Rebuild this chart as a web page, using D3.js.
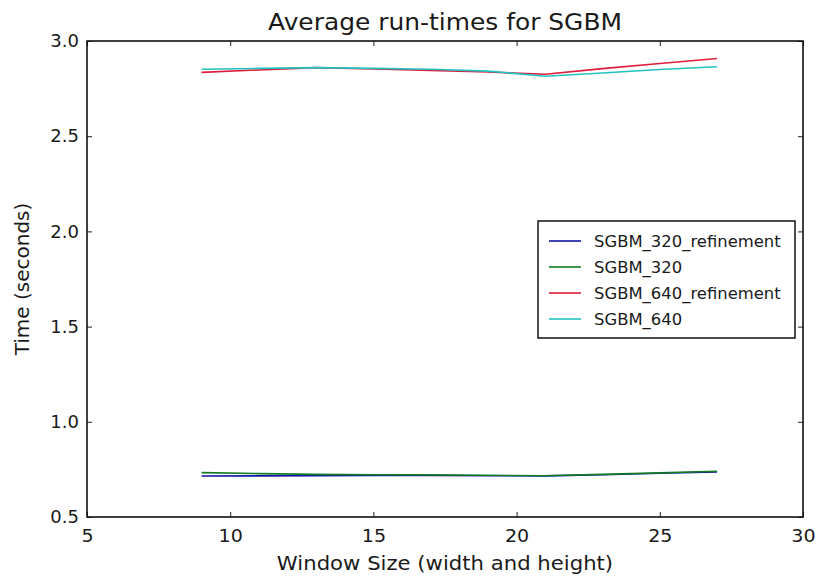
<!DOCTYPE html>
<html>
<head>
<meta charset="utf-8">
<script src="https://cdn.jsdelivr.net/npm/d3@7"></script>
<style>
  html, body { margin: 0; padding: 0; background: #fff; }
  svg { display: block; font-family: "DejaVu Sans", sans-serif; }
</style>
</head>
<body>
<svg id="chart" width="817" height="577"></svg>
<script>
// ---- data ----
const windowSizes = [9, 11, 13, 15, 17, 19, 21, 23, 25, 27];
const sgbm320Refinement = [0.715, 0.716, 0.717, 0.718, 0.718, 0.717, 0.716, 0.722, 0.730, 0.737];
const sgbm320 = [0.733, 0.728, 0.724, 0.722, 0.721, 0.719, 0.717, 0.724, 0.732, 0.740];
const sgbm640Refinement = [2.835, 2.848, 2.860, 2.853, 2.845, 2.837, 2.825, 2.855, 2.882, 2.908];
const sgbm640 = [2.852, 2.856, 2.860, 2.856, 2.852, 2.842, 2.815, 2.832, 2.850, 2.865];
const seriesNames = ["SGBM_320_refinement", "SGBM_320", "SGBM_640_refinement", "SGBM_640"];
const seriesColors = ["#1414a8", "#157a25", "#e01c3c", "#22c2c0"];
const xTicks = [5, 10, 15, 20, 25, 30];
const yTicks = [0.5, 1.0, 1.5, 2.0, 2.5, 3.0];
const titleText = "Average run-times for SGBM";
const xLabel = "Window Size (width and height)";
const yLabel = "Time (seconds)";

const seriesValues = [sgbm320Refinement, sgbm320, sgbm640Refinement, sgbm640];
const series = seriesNames.map((name, i) => ({
  name, color: seriesColors[i],
  points: windowSizes.map((x, j) => ({ x, y: seriesValues[i][j] }))
}));

// ---- layout ----
const svg = d3.select("#chart");
const plot = { left: 87, right: 803, top: 41, bottom: 517 };
const sx = 1.06; // horizontal stretch of the reference's text

const x = d3.scaleLinear().domain([5, 30]).range([plot.left, plot.right]);
const y = d3.scaleLinear().domain([0.5, 3.0]).range([plot.bottom, plot.top]);

function stretchedText(parent, tx, ty, str, size, anchor) {
  return parent.append("text")
    .attr("transform", `translate(${tx},${ty}) scale(${sx},1)`)
    .attr("text-anchor", anchor || "middle")
    .attr("font-size", size)
    .attr("fill", "#1a1a1a")
    .text(str);
}

// axes with inward ticks on all four sides
const fmtY = d3.format(".1f");
const axB = svg.append("g").attr("transform", `translate(0,${plot.bottom})`)
  .call(d3.axisBottom(x).tickValues(xTicks).tickSize(-5).tickSizeOuter(0).tickPadding(12).tickFormat(d3.format("d")));
const axT = svg.append("g").attr("transform", `translate(0,${plot.top})`)
  .call(d3.axisTop(x).tickValues(xTicks).tickSize(-5).tickSizeOuter(0).tickFormat(""));
const axL = svg.append("g").attr("transform", `translate(${plot.left},0)`)
  .call(d3.axisLeft(y).tickValues(yTicks).tickSize(-5).tickSizeOuter(0).tickPadding(8).tickFormat(fmtY));
const axR = svg.append("g").attr("transform", `translate(${plot.right},0)`)
  .call(d3.axisRight(y).tickValues(yTicks).tickSize(-5).tickSizeOuter(0).tickFormat(""));

[axB, axT, axL, axR].forEach(g => {
  g.select(".domain").remove();
  g.selectAll(".tick line").attr("stroke", "#222").attr("stroke-width", 1);
  g.selectAll(".tick text")
    .attr("font-family", "DejaVu Sans, sans-serif")
    .attr("font-size", 18).attr("fill", "#1a1a1a");
});
axB.selectAll(".tick text").attr("transform", `scale(${sx},1)`);

// lines
const line = d3.line().x(d => x(d.x)).y(d => y(d.y));
svg.append("g").selectAll("path").data(series).join("path")
  .attr("d", d => line(d.points))
  .attr("fill", "none")
  .attr("stroke", d => d.color)
  .attr("stroke-width", 1.6)
  .attr("stroke-linejoin", "round");

// frame
svg.append("rect")
  .attr("x", plot.left).attr("y", plot.top)
  .attr("width", plot.right - plot.left).attr("height", plot.bottom - plot.top)
  .attr("fill", "none").attr("stroke", "#111").attr("stroke-width", 1.6);

// title and axis labels
stretchedText(svg, (plot.left + plot.right) / 2, 30, titleText, 23.5);
stretchedText(svg, (plot.left + plot.right) / 2, 570, xLabel, 20);
svg.append("text")
  .attr("transform", `translate(29,${(plot.top + plot.bottom) / 2}) rotate(-90)`)
  .attr("text-anchor", "middle")
  .attr("font-size", 20)
  .attr("fill", "#1a1a1a")
  .text(yLabel);

// legend
const lg = { x: 538, y: 221, w: 257, h: 117 };
const legend = svg.append("g");
legend.append("rect")
  .attr("x", lg.x).attr("y", lg.y).attr("width", lg.w).attr("height", lg.h)
  .attr("fill", "#fff").attr("stroke", "#111").attr("stroke-width", 1.5);
const rowY = d3.scalePoint().domain(seriesNames).range([lg.y + 20, lg.y + 98]);
series.forEach(s => {
  const yy = rowY(s.name);
  legend.append("line")
    .attr("x1", lg.x + 11).attr("x2", lg.x + 43)
    .attr("y1", yy).attr("y2", yy)
    .attr("stroke", s.color).attr("stroke-width", 1.6);
  stretchedText(legend, lg.x + 56, yy + 6, s.name, 15.5, "start");
});
</script>
</body>
</html>
